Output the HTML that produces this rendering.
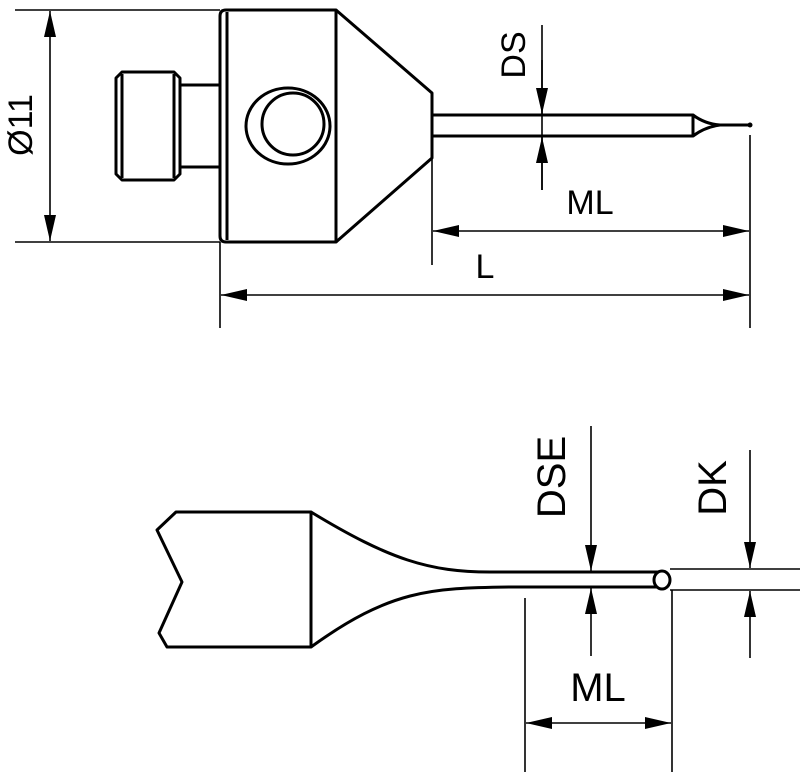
<!DOCTYPE html>
<html><head><style>body{margin:0;background:#fff}svg{display:block}</style></head><body>
<svg width="800" height="772" viewBox="0 0 800 772" xmlns="http://www.w3.org/2000/svg">
<defs>
<marker id="a" markerWidth="26" markerHeight="12" refX="26" refY="6" orient="auto" markerUnits="userSpaceOnUse"><path d="M0,0 L26,6 L0,12 Z" fill="#000"/></marker>
</defs>
<g stroke="#000" fill="none" stroke-width="1.6">
<!-- top: O11 dimension -->
<line x1="15" y1="10" x2="220" y2="10"/>
<line x1="15" y1="242" x2="220" y2="242"/>
<line x1="50" y1="125" x2="50" y2="11" marker-end="url(#a)"/>
<line x1="50" y1="125" x2="50" y2="241" marker-end="url(#a)"/>
<!-- extension lines -->
<line x1="220" y1="242" x2="220" y2="328"/>
<line x1="750" y1="135" x2="750" y2="328"/>
<line x1="432" y1="150" x2="432" y2="265"/>
<line x1="542" y1="25" x2="542" y2="190"/>
<!-- ML / L dims -->
<line x1="590" y1="231" x2="433" y2="231" marker-end="url(#a)"/>
<line x1="590" y1="231" x2="749" y2="231" marker-end="url(#a)"/>
<line x1="480" y1="295" x2="221" y2="295" marker-end="url(#a)"/>
<line x1="480" y1="295" x2="749" y2="295" marker-end="url(#a)"/>
<!-- DS arrows -->
<line x1="542" y1="60" x2="542" y2="114" marker-end="url(#a)"/>
<line x1="542" y1="190" x2="542" y2="137" marker-end="url(#a)"/>
</g>
<g stroke="#000" fill="none" stroke-width="3" stroke-linejoin="round">
<!-- body -->
<path d="M226,10 L336,10 L336,242 L226,242 Q220,242 220,236 L220,16 Q220,10 226,10 Z"/>
<line x1="227" y1="12" x2="227" y2="240"/>
<path d="M336,10 L432,93 L432,158 L336,242"/>
<ellipse cx="288" cy="126" rx="42" ry="38"/>
<circle cx="293" cy="124" r="31"/>
<!-- knob -->
<path d="M122,72 L174,72 L180,78 L180,174 L174,180 L122,180 L116,174 L116,78 Z"/>
<line x1="122" y1="74" x2="122" y2="178"/>
<line x1="174" y1="74" x2="174" y2="178"/>
<path d="M180,85 L220,85 M180,167 L220,167"/>
<!-- stylus -->
<path d="M432,115 L693,115 L693,136 L432,136"/>
<path d="M693,115 Q705,124 720,125 L750,125 M693,136 Q705,127 720,125"/>
</g>
<circle cx="750" cy="125" r="2.5" fill="#000"/>
<g font-family="Liberation Sans, sans-serif" font-size="34" fill="#000">
<text transform="translate(32,125) rotate(-90)" text-anchor="middle">Ø11</text>
<text transform="translate(525,55) rotate(-90)" text-anchor="middle">DS</text>
<text x="590" y="214" text-anchor="middle">ML</text>
<text x="485" y="278" text-anchor="middle">L</text>
</g>

<!-- bottom -->
<g stroke="#000" fill="none" stroke-width="3" stroke-linejoin="round">
<path d="M176,512 L311,512 L311,647 L167,647 L159,633 L182,582 L157,530 Z"/>
<path d="M311,512 C390,560 430,572 490,572 L658,572"/>
<path d="M311,647 C390,590 430,588 510,587 L658,587"/>
<ellipse cx="662" cy="580" rx="8" ry="9" fill="#fff"/>
</g>
<g stroke="#000" fill="none" stroke-width="1.6">
<line x1="591" y1="426" x2="591" y2="571" marker-end="url(#a)"/>
<line x1="591" y1="656" x2="591" y2="588" marker-end="url(#a)"/>
<line x1="750" y1="450" x2="750" y2="568" marker-end="url(#a)"/>
<line x1="750" y1="658" x2="750" y2="591" marker-end="url(#a)"/>
<line x1="670" y1="569" x2="800" y2="569"/>
<line x1="670" y1="590" x2="800" y2="590"/>
<line x1="525" y1="598" x2="525" y2="772"/>
<line x1="672" y1="590" x2="672" y2="772"/>
<line x1="598" y1="723" x2="526" y2="723" marker-end="url(#a)"/>
<line x1="598" y1="723" x2="671" y2="723" marker-end="url(#a)"/>
</g>
<g font-family="Liberation Sans, sans-serif" font-size="40" fill="#000">
<text transform="translate(565,477) rotate(-90)" text-anchor="middle">DSE</text>
<text transform="translate(726,488) rotate(-90)" text-anchor="middle">DK</text>
<text x="598" y="701" text-anchor="middle">ML</text>
</g>
</svg>
</body></html>
